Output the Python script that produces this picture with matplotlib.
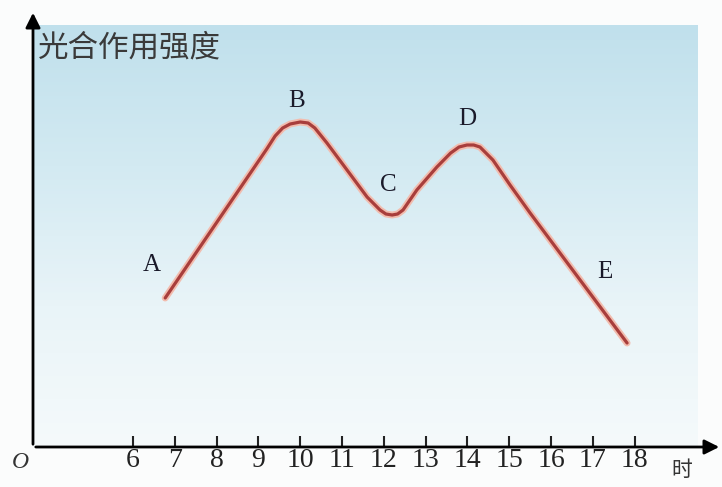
import numpy as np
import matplotlib
matplotlib.use("Agg")
import matplotlib.pyplot as plt
from matplotlib.colors import LinearSegmentedColormap

plt.rcParams['font.family'] = ['Noto Sans CJK SC', 'DejaVu Sans']

# data (arbitrary intensity units)
hours = [6.77, 9.20, 9.40, 9.58, 9.76, 10.00, 10.19, 10.35, 10.64, 11.12, 11.60, 11.91,
         12.05, 12.20, 12.33, 12.46, 12.79, 13.27, 13.60, 13.80, 13.99, 14.15, 14.30, 14.61,
         15.02, 15.50, 17.82]
intensity = [149, 298, 311, 319, 323, 325, 324, 319, 304, 277, 250, 237,
             233, 232, 233, 237, 257, 280, 294, 300, 302, 302, 300, 287,
             262, 234, 104]
tick_hours = [6, 7, 8, 9, 10, 11, 12, 13, 14, 15, 16, 17, 18]
tick_labels = [str(t) for t in tick_hours]
point_names = ['A', 'B', 'C', 'D', 'E']
point_x = [6.45, 9.92, 12.10, 13.99, 17.30]
point_y = [182, 346, 262, 328, 175]
y_title = '光合作用强度'
x_unit = '时'

W, H = 722, 487
fig = plt.figure(figsize=(W / 100, H / 100), dpi=100)
fig.patch.set_facecolor('#fbfcfc')
ax = fig.add_axes([33 / W, (H - 447) / H, (722 - 33) / W, (447 - 10) / H])
px_per_h = 41.8
x0 = 6 - (133 - 33) / px_per_h
x1 = 6 + (722 - 133) / px_per_h
ax.set_xlim(x0, x1)
ax.set_ylim(0, 437)
ax.set_facecolor('none')
for s in ax.spines.values():
    s.set_visible(False)

# gradient background
cmap = LinearSegmentedColormap.from_list('bg', ['#f5fafb', '#e9f4f8', '#d3eaf2', '#c0e0ec'])
grad = np.linspace(0, 1, 256).reshape(-1, 1)
bx1 = 6 + (698 - 133) / px_per_h
ax.imshow(grad, extent=[x0, bx1, 0, 422], origin='lower', aspect='auto', cmap=cmap, zorder=0)

# curve
ax.plot(hours, intensity, color='#f2bcae', lw=5, solid_capstyle='round',
        solid_joinstyle='round', zorder=2)
ax.plot(hours, intensity, color='#a83e3c', lw=2.3, solid_capstyle='round',
        solid_joinstyle='round', zorder=3)

# axes with arrows
ax.annotate('', xy=(x1, 0), xytext=(x0, 0), xycoords='data',
            arrowprops=dict(arrowstyle='-|>', color='black', lw=2, mutation_scale=22),
            annotation_clip=False, zorder=5)
ax.annotate('', xy=(x0, 437), xytext=(x0, 0), xycoords='data',
            arrowprops=dict(arrowstyle='-|>', color='black', lw=2, mutation_scale=22),
            annotation_clip=False, zorder=5)

ax.set_xticks(tick_hours)
ax.set_xticklabels(tick_labels, fontfamily='Liberation Serif', fontsize=20, color='#222222')
ax.tick_params(axis='x', direction='in', length=8, width=1.5, pad=1, colors='#222222')
ax.set_yticks([])

for n, xx, yy in zip(point_names, point_x, point_y):
    ax.text(xx, yy, n, fontfamily='Liberation Serif', fontsize=18, color='#1a1a2a',
            ha='center', va='center', zorder=6)

fig.text(38 / W, 1 - 48 / H, y_title, fontsize=22, color='#3a3a3a', va='center', ha='left')
fig.text(682 / W, 1 - 470 / H, x_unit, fontsize=15, color='#333333', va='center', ha='center')
fig.text(20 / W, 1 - 462 / H, 'O', fontfamily='Liberation Serif', fontstyle='italic',
         fontsize=17, color='#333333', va='center', ha='center')

fig.savefig('out.png', dpi=100, facecolor=fig.get_facecolor())
